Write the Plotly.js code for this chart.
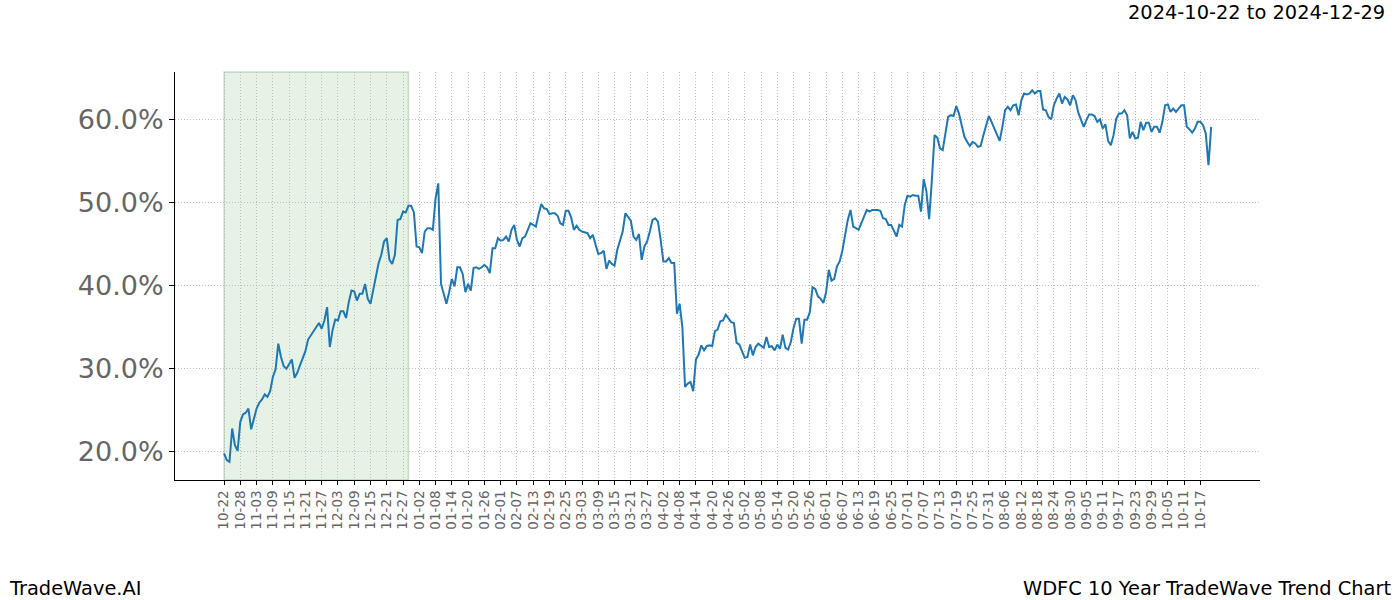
<!DOCTYPE html>
<html>
<head>
<meta charset="utf-8">
<script src="https://cdn.plot.ly/plotly-3.0.1.min.js"></script>
<style>
html,body{margin:0;padding:0;background:#fff;}
#chart{width:1400px;height:600px;}
</style>
</head>
<body>
<div id="chart"></div>
<script>
// Daily trend values (%) starting 2024-10-22
const startDate = '2024-10-22';
const valuesPart1 = [
19.8,19.0,18.8,22.8,20.8,20.1,23.6,24.5,24.7,25.2,
22.7,23.8,25.2,25.9,26.3,26.9,26.6,27.3,29.0,29.9,
33.0,31.4,30.3,30.0,30.6,31.1,28.9,29.5,30.4,31.3,
32.1,33.5,34.0,34.6,35.0,35.5,34.8,35.8,37.4,32.6,
34.6,35.9,35.8,36.9,36.9,36.1,38.0,39.4,39.3,38.2,
39.0,39.0,40.2,38.4,37.8,39.4,41.3,42.7,43.7,45.3,
45.7,43.1,42.6,43.7,47.9,48.0,48.9,48.8,49.6,49.6,
48.8,44.7,44.6,43.9,46.5,46.9,46.9,46.7,50.5,52.3,
40.2,39.0,37.8,39.2,40.8,39.9,42.2,42.2,41.4,39.2
];
const valuesPart2 = [
40.2,39.4,42.1,42.2,42.0,42.2,42.5,42.2,41.5,44.5,
44.5,45.7,45.4,45.5,45.9,45.3,46.7,47.3,45.5,44.7,
45.7,45.9,46.7,47.5,47.3,47.1,48.6,49.8,49.3,49.2,
48.6,48.7,48.7,48.4,47.5,47.3,49.0,49.0,48.2,46.7,
47.2,46.7,46.5,46.4,46.3,45.7,46.1,44.9,43.8,43.9,
44.2,42.0,43.0,42.6,42.4,44.3,45.5,46.5,48.7,48.3,
47.8,45.9,45.5,46.2,43.1,44.7,45.3,46.5,47.9,48.1,
47.7,45.5,42.9,42.9,43.3,42.7,42.7,36.6,37.8,35.0,
27.8,28.2,28.4,27.3,31.1,31.7,32.8,32.2,32.7,32.8
];
const valuesPart3 = [
32.7,34.5,34.7,35.7,35.8,36.5,36.1,35.6,35.5,33.1,
32.9,32.2,31.3,31.4,32.9,31.6,32.6,33.0,32.8,32.5,
33.8,32.6,32.7,32.2,32.9,32.4,34.1,32.5,32.3,33.2,
34.9,36.0,36.0,33.0,35.9,35.9,36.8,39.8,39.6,38.7,
38.4,37.9,39.2,41.9,40.6,40.8,42.3,42.9,44.2,46.3,
47.9,49.1,47.1,46.9,46.7,47.5,48.3,49.1,48.9,49.1,
49.1,49.1,49.0,48.1,48.0,47.3,47.3,46.6,45.9,47.3,
47.1,49.7,50.8,50.7,50.9,50.8,50.8,48.9,52.8,51.3,
48.0,52.7,58.1,57.8,56.5,56.3,58.3,60.3,60.5,60.4
];
const valuesPart4 = [
61.6,60.7,59.3,57.9,57.3,56.8,57.3,57.1,56.7,56.8,
58.1,59.3,60.4,59.7,58.9,58.3,57.4,59.1,61.1,61.5,
61.1,61.7,61.8,60.5,62.3,63.1,63.0,63.1,63.5,63.1,
63.4,63.4,61.2,61.1,60.3,60.0,61.7,62.5,63.1,61.9,
62.7,62.4,61.7,62.9,62.3,60.8,60.0,59.1,59.9,60.6,
60.6,60.4,59.7,60.0,58.9,59.4,57.4,56.9,58.1,60.1,
60.7,60.7,61.1,60.5,57.7,58.5,57.7,57.8,59.7,58.7,
59.6,59.6,58.5,59.1,59.1,58.4,59.7,61.7,61.8,60.9,
61.3,60.9,61.3,61.7,61.7,59.1,58.8,58.4,58.9,59.7,
59.7,59.3,58.3,54.5,59.1
];
const shadeStart = '2024-10-22';
const shadeEnd = '2024-12-29';
const yTicks = [20, 30, 40, 50, 60];
const xRange = ['2024-10-03 22:00', '2025-11-08'];
const yRange = [16.6, 65.7];
const titleText = '2024-10-22 to 2024-12-29';
const leftFooter = 'TradeWave.AI';
const rightFooter = 'WDFC 10 Year TradeWave Trend Chart';

const values = valuesPart1.concat(valuesPart2, valuesPart3, valuesPart4);

function addDays(s, n) {
  const d = new Date(s + 'T00:00:00Z');
  d.setUTCDate(d.getUTCDate() + n);
  return d.toISOString().slice(0, 10);
}
const dates = values.map((v, i) => addDays(startDate, i));

// ticks every 6 days
const tickVals = [], tickText = [];
for (let i = 0; i <= 360; i += 6) {
  const s = addDays(startDate, i);
  tickVals.push(s);
  tickText.push(s.slice(5));
}

const font = 'DejaVu Sans, Liberation Sans, sans-serif';

const trace = {
  x: dates, y: values, type: 'scatter', mode: 'lines',
  line: {color: '#1f77b4', width: 2},
  hoverinfo: 'skip'
};

const layout = {
  width: 1400, height: 600,
  margin: {l: 175, r: 140, t: 72, b: 120},
  paper_bgcolor: '#ffffff', plot_bgcolor: '#ffffff',
  showlegend: false,
  font: {family: font, color: '#000'},
  xaxis: {
    type: 'date', range: xRange,
    tickmode: 'array', tickvals: tickVals, ticktext: tickText,
    tickangle: -90, tickfont: {size: 13.5, color: '#666666', family: font},
    ticks: 'outside', ticklen: 4, tickcolor: '#000', tickwidth: 1,
    showgrid: true, gridcolor: '#b0b0b0', gridwidth: 0.8, griddash: '1px,2px',
    showline: true, linecolor: '#000', linewidth: 1, mirror: false,
    zeroline: false
  },
  yaxis: {
    range: yRange, tickmode: 'array', tickvals: yTicks,
    ticktext: yTicks.map(v => v.toFixed(1) + '%'),
    tickfont: {size: 27, color: '#666666', family: font},
    ticks: 'outside', ticklen: 5, tickcolor: '#000', tickwidth: 1,
    showgrid: true, gridcolor: '#b0b0b0', gridwidth: 0.8, griddash: '1px,2px',
    showline: true, linecolor: '#000', linewidth: 1, mirror: false,
    zeroline: false
  },
  shapes: [{
    type: 'rect', xref: 'x', yref: 'paper',
    x0: shadeStart, x1: shadeEnd, y0: 0, y1: 1,
    fillcolor: 'rgba(0,128,0,0.1)', line: {color: 'rgba(0,80,0,0.18)', width: 1.5},
    layer: 'below'
  }],
  annotations: [
    {text: titleText, xref: 'paper', yref: 'paper', x: 1, y: 1,
     xshift: 127, yshift: 60, xanchor: 'right', yanchor: 'middle',
     showarrow: false, font: {size: 19.4, family: font, color: '#000'}},
    {text: leftFooter, xref: 'paper', yref: 'paper', x: 0, y: 0,
     xshift: -168, yshift: -108, xanchor: 'left', yanchor: 'middle',
     showarrow: false, font: {size: 19.4, family: font, color: '#000'}},
    {text: rightFooter, xref: 'paper', yref: 'paper', x: 1, y: 0,
     xshift: 133, yshift: -108, xanchor: 'right', yanchor: 'middle',
     showarrow: false, font: {size: 19.4, family: font, color: '#000'}}
  ]
};

Plotly.newPlot('chart', [trace], layout, {staticPlot: true, displayModeBar: false});
</script>
</body>
</html>
